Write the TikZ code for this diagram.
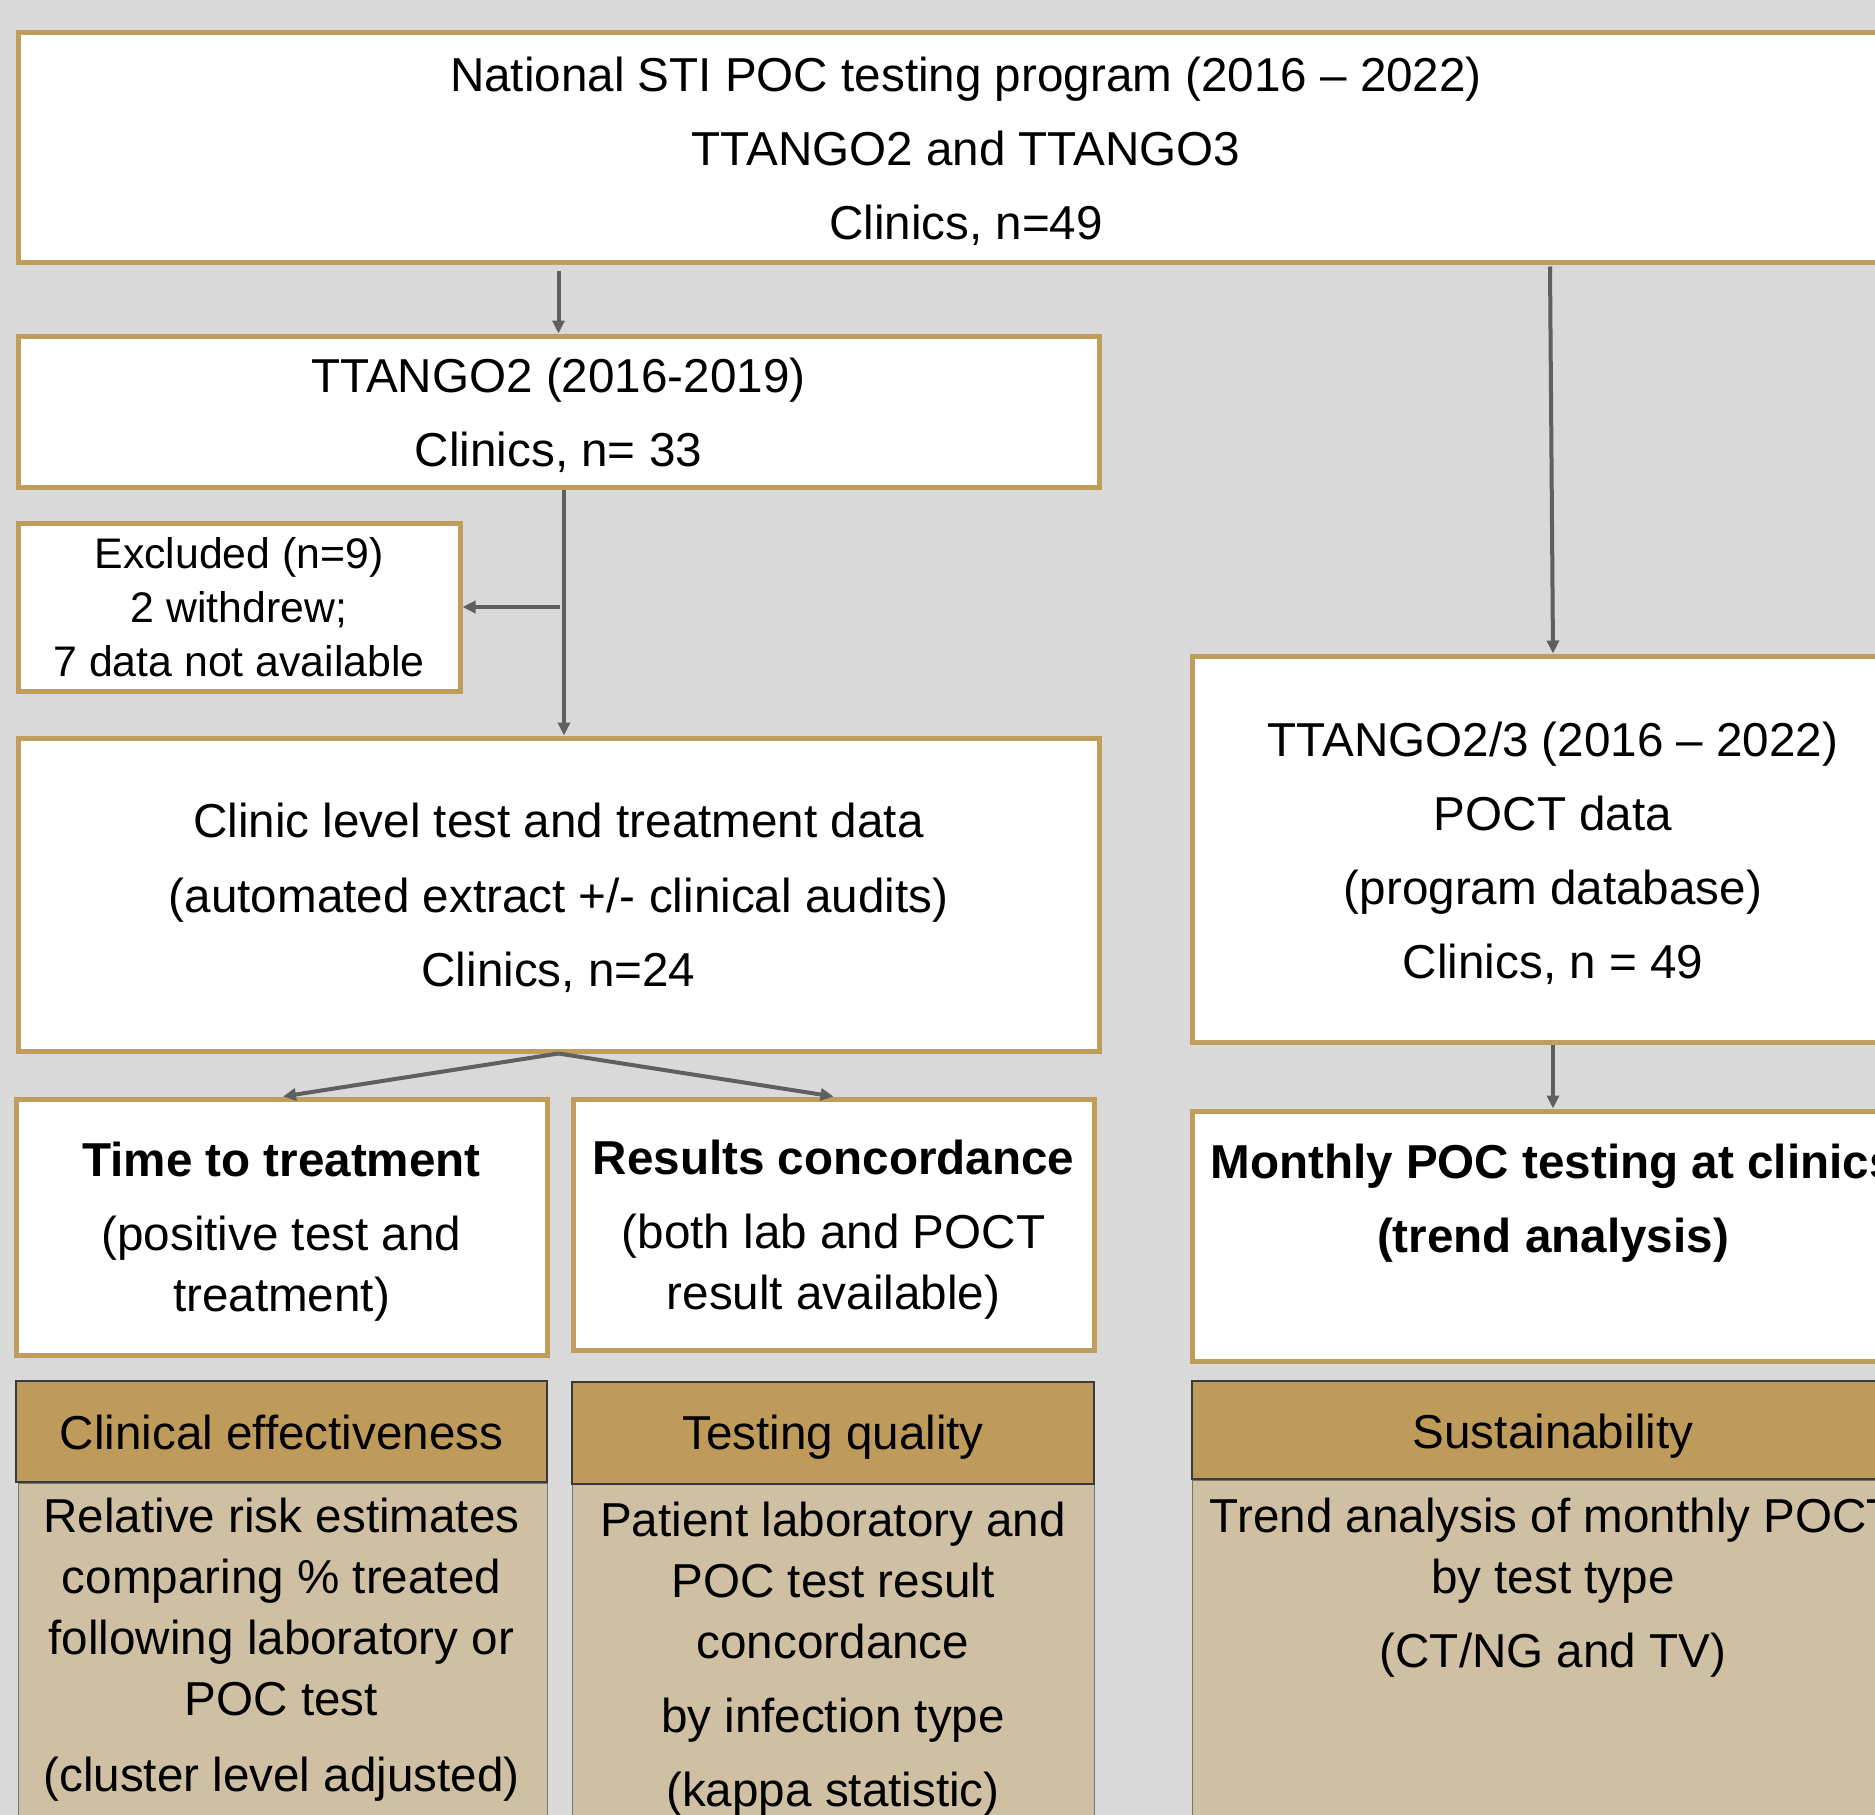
\documentclass[tikz,border=0pt]{standalone}
\usepackage{fontspec}
\setmainfont{Liberation Sans}
\usetikzlibrary{arrows.meta}
\definecolor{bgc}{HTML}{D9D9D9}
\definecolor{goldc}{HTML}{BF9D5A}
\definecolor{hdrc}{HTML}{BF9B5B}
\definecolor{bodyc}{HTML}{CFC0A4}
\definecolor{arrowc}{HTML}{5F5F5F}
\definecolor{edgec}{HTML}{3A3A3A}
\newcommand{\bigfs}{\fontsize{47.6}{61}\selectfont}
\newcommand{\smallfs}{\fontsize{42.8}{54}\selectfont}
% invisible strut raising the first line's height, to push the text block down
\newcommand{\dn}[1]{\rule{0pt}{#1pt}}
\begin{document}
\begin{tikzpicture}[x=1pt,y=-1pt,
  wbox/.style={draw=goldc, line width=5pt, fill=white, inner sep=0pt, align=center, font=\bigfs, rectangle},
  hbox/.style={draw=edgec, line width=1.5pt, fill=hdrc, inner sep=0pt, align=center, font=\bigfs, rectangle},
  bbox/.style={draw=edgec!70, line width=1.2pt, fill=bodyc, inner sep=0pt, rectangle},
  txt/.style={inner sep=0pt, align=center, font=\bigfs},
  arr/.style={draw=arrowc, line width=4pt, -{Triangle[length=13pt,width=12pt]}}]
\useasboundingbox (0,0) rectangle (1875,1815);
\clip (0,0) rectangle (1875,1815);
\fill[bgc] (0,0) rectangle (1875,1815);

\node[wbox, minimum width=1896pt, minimum height=230pt] (top) at (966,147)
  {\dn{43}National STI POC testing program (2016 – 2022)\\[13pt] TTANGO2 and TTANGO3\\[13pt] Clinics, n=49};
\node[wbox, minimum width=1081pt, minimum height=151pt] (t2) at (558.5,411.5)
  {\dn{43}TTANGO2 (2016-2019)\\[13pt] Clinics, n= 33};
\node[wbox, font=\smallfs, minimum width=442pt, minimum height=168pt] (excl) at (239,607)
  {Excluded (n=9)\\ 2 withdrew;\\ 7 data not available};
\node[wbox, minimum width=1081pt, minimum height=313pt] (clinic) at (558.5,894.5)
  {\dn{41}Clinic level test and treatment data\\[14pt] (automated extract +/- clinical audits)\\[13pt] Clinics, n=24};
\node[wbox, minimum width=722pt, minimum height=386pt] (r3) at (1553,849)
  {\dn{43}TTANGO2/3 (2016 – 2022)\\[13pt] POCT data\\[13pt] (program database)\\[13pt] Clinics, n = 49};
\node[wbox, minimum width=722pt, minimum height=250pt] (monthly) at (1553,1236)
  {\dn{52}\textbf{Monthly POC testing at clinics}\\[13pt] \textbf{(trend analysis)}\\[13pt] \strut};
\node[wbox, minimum width=531pt, minimum height=256pt] (time) at (281.5,1227)
  {\dn{44}\textbf{Time to treatment}\\[13pt] (positive test and\\ treatment)};
\node[wbox, minimum width=521pt, minimum height=251pt] (results) at (833.5,1224.5)
  {\dn{44}\textbf{Results concordance}\\[13pt] (both lab and POCT\\ result available)};

\node[bbox, minimum width=529pt, minimum height=420pt, anchor=north west] (b1) at (18,1483) {};
\node[bbox, minimum width=522pt, minimum height=420pt, anchor=north west] (b2) at (572,1484) {};
\node[bbox, minimum width=722pt, minimum height=420pt, anchor=north west] (b3) at (1192,1480) {};
\node[hbox, minimum width=531pt, minimum height=101pt] (h1) at (281.5,1431.5) {\dn{37}Clinical effectiveness};
\node[hbox, minimum width=522pt, minimum height=102pt] (h2) at (833,1433) {\dn{43}Testing quality};
\node[hbox, minimum width=722pt, minimum height=98pt] (h3) at (1553,1430) {\dn{47}Sustainability};

\node[txt, anchor=north] (b1t) at (281.5,1498)
  {Relative risk estimates\\ comparing \% treated\\ following laboratory or\\ POC test\\[15pt] (cluster level adjusted)};
\node[txt, anchor=north] (b2t) at (833,1502)
  {Patient laboratory and\\ POC test result\\ concordance\\[13pt] by infection type\\[13pt] (kappa statistic)};
\node[txt, anchor=north] (b3t) at (1553,1498)
  {Trend analysis of monthly POCT\\ by test type\\[13pt] (CT/NG and TV)};

\draw[arr] ([yshift=-6pt]top.south -| t2.north) -- (t2.north);
\draw[arr] ([xshift=-3pt,yshift=-2pt]top.south -| r3.north) -- (r3.north);
\draw[arr] ([xshift=5.5pt]t2.south) -- ([xshift=5.5pt]clinic.north);
\coordinate (exs) at ([xshift=1pt]t2.south |- excl.east);
\draw[arr] (exs) -- (excl.east);
\draw[arr] (clinic.south) -- ([xshift=1.5pt]time.north);
\draw[arr] (clinic.south) -- (results.north);
\draw[arr] (r3.south) -- (monthly.north);
\end{tikzpicture}
\end{document}
